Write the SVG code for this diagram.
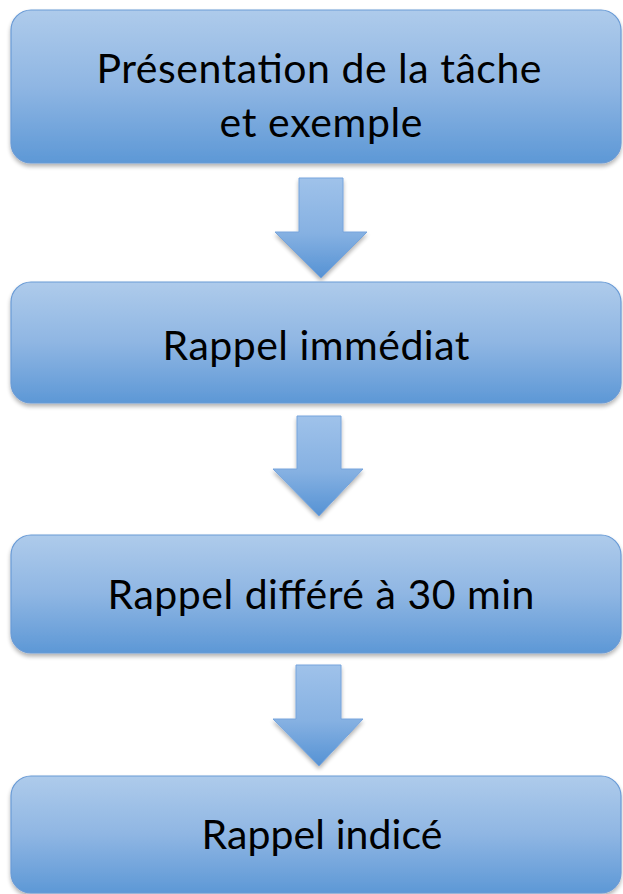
<svg xmlns="http://www.w3.org/2000/svg" width="623" height="894" viewBox="0 0 623 894">
<defs>
<linearGradient id="boxg" x1="0" y1="0" x2="0" y2="1">
<stop offset="0" stop-color="#aecbeb"/>
<stop offset="0.5" stop-color="#8fb6e3"/>
<stop offset="1" stop-color="#5d98d6"/>
</linearGradient>
<linearGradient id="arrg" x1="0" y1="0" x2="0" y2="1">
<stop offset="0" stop-color="#9fc2ea"/>
<stop offset="0.55" stop-color="#86b1e2"/>
<stop offset="1" stop-color="#5592d4"/>
</linearGradient>
<filter id="sh" x="-5%" y="-5%" width="110%" height="120%">
<feGaussianBlur in="SourceAlpha" stdDeviation="2"/>
<feOffset dx="0" dy="3"/>
<feComponentTransfer><feFuncA type="linear" slope="0.3"/></feComponentTransfer>
<feMerge><feMergeNode/><feMergeNode in="SourceGraphic"/></feMerge>
</filter>
</defs>
<style>
.box{fill:url(#boxg);stroke:#6a9bd6;stroke-width:1.2;filter:url(#sh)}
.arr{fill:url(#arrg);stroke:#76a4dc;stroke-width:1;filter:url(#sh)}
.t{font-family:Lato,"Open Sans","DejaVu Sans",sans-serif;font-size:41px;fill:#000;text-anchor:middle}
</style>
<g id="connectors">
<path class="arr" d="M299,178 H343 V232 H367 L321,278 L275,232 H299 Z"/>
<path class="arr" d="M297,416 H341 V469 H363 L319,516 L273,469 H297 Z"/>
<path class="arr" d="M296,665 H341 V719 H363 L319,766 L273,719 H296 Z"/>
</g>
<g id="n1">
<rect class="box" x="11" y="10" width="610" height="153" rx="20"/>
<text class="t" x="319" y="83" textLength="445">Présentation de la tâche</text>
<text class="t" x="321" y="137" textLength="203">et exemple</text>
</g>
<g id="n2">
<rect class="box" x="11" y="282" width="610" height="121" rx="20"/>
<text class="t" x="316" y="360" textLength="307">Rappel immédiat</text>
</g>
<g id="n3">
<rect class="box" x="11" y="535" width="610" height="118" rx="20"/>
<text class="t" x="321" y="609" textLength="427">Rappel différé à 30 min</text>
</g>
<g id="n4">
<rect class="box" x="11" y="776" width="610" height="117" rx="20"/>
<text class="t" x="322" y="849" textLength="241">Rappel indicé</text>
</g>
</svg>
